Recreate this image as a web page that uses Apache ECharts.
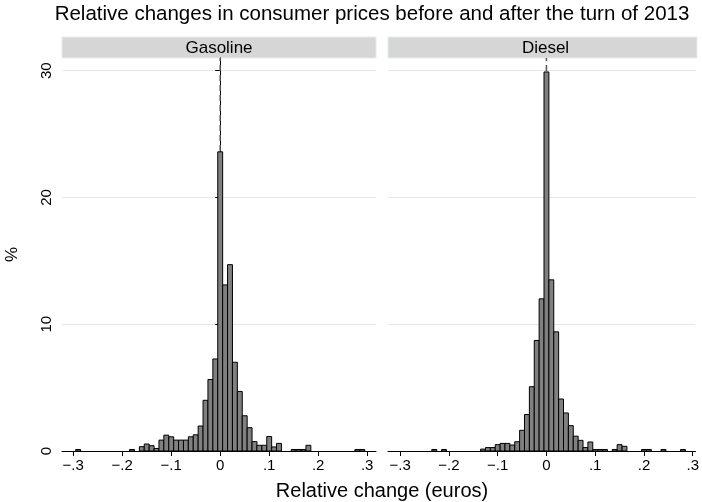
<!DOCTYPE html>
<html>
<head>
<meta charset="utf-8">
<script src="https://cdn.jsdelivr.net/npm/echarts@6/dist/echarts.min.js"></script>
<style>
html,body{margin:0;padding:0;background:#fff;}
#chart{width:702px;height:502px;}
</style>
</head>
<body>
<div id="chart"></div>
<script>
// ---- data ----
const chartTitle = 'Relative changes in consumer prices before and after the turn of 2013';
const panelNames = ['Gasoline', 'Diesel'];
const xTitle = 'Relative change (euros)';
const yTitle = '%';
const binWidth = 0.01;
const xTickValues = [-0.3, -0.2, -0.1, 0, 0.1, 0.2, 0.3];
const xTickLabels = ['\u2212.3', '\u2212.2', '\u2212.1', '0', '.1', '.2', '.3'];
const yTickValues = [0, 10, 20, 30];
const yTickLabels = ['0', '10', '20', '30'];

const gasolineBins = [-0.29, -0.18, -0.16, -0.15, -0.14, -0.13, -0.12, -0.11, -0.10, -0.09, -0.08, -0.07, -0.06, -0.05, -0.04, -0.03, -0.02, -0.01, 0.00, 0.01, 0.02, 0.03, 0.04, 0.05, 0.06, 0.07, 0.08, 0.09, 0.10, 0.11, 0.12, 0.15, 0.16, 0.17, 0.18, 0.28, 0.29];
const gasolinePct  = [0.12, 0.12, 0.34, 0.55, 0.42, 0.20, 0.86, 1.25, 1.12, 0.86, 0.86, 0.86, 1.12, 1.28, 1.97, 4.0, 5.64, 7.26, 23.6, 13.1, 14.7, 7.0, 4.7, 2.78, 1.84, 0.74, 0.45, 0.45, 1.14, 0.32, 0.60, 0.12, 0.12, 0.12, 0.45, 0.12, 0.12];

const dieselBins = [-0.23, -0.21, -0.13, -0.12, -0.11, -0.10, -0.09, -0.08, -0.07, -0.06, -0.05, -0.04, -0.03, -0.02, -0.01, 0.00, 0.01, 0.02, 0.03, 0.04, 0.05, 0.06, 0.07, 0.08, 0.09, 0.10, 0.11, 0.12, 0.14, 0.15, 0.16, 0.20, 0.21, 0.24, 0.28];
const dieselPct  = [0.12, 0.12, 0.15, 0.27, 0.27, 0.50, 0.60, 0.60, 0.47, 0.73, 1.63, 2.88, 5.07, 8.72, 12.0, 29.9, 13.5, 9.4, 4.1, 3.0, 2.0, 1.17, 0.84, 0.27, 0.71, 0.12, 0.12, 0.12, 0.12, 0.50, 0.37, 0.12, 0.12, 0.12, 0.12];

// ---- chart ----
const FONT = 'Liberation Sans, Arial, Helvetica, sans-serif';
const chart = echarts.init(document.getElementById('chart'), null, {renderer: 'canvas'});

const grids = [
  {left: 62, top: 58, width: 314, height: 393},
  {left: 388, top: 58, width: 309, height: 393}
];
const xRanges = [[-0.3229, 0.318], [-0.3249, 0.3057]];
const yMax = 31.0;

function histItem(params, api) {
  const x = api.value(0), y = api.value(1);
  const p0 = api.coord([x - binWidth / 2, y]);
  const p1 = api.coord([x + binWidth / 2, 0]);
  return {
    type: 'rect',
    shape: {x: p0[0], y: p0[1], width: p1[0] - p0[0], height: p1[1] - p0[1]},
    style: {fill: '#808080', stroke: '#000000', lineWidth: 1}
  };
}

const xAxes = [0, 1].map(i => ({
  type: 'value', gridIndex: i, min: xRanges[i][0], max: xRanges[i][1],
  axisLine: {show: true, onZero: false, lineStyle: {color: '#000', width: 1}},
  axisTick: {show: true, length: 5, lineStyle: {color: '#000'}, customValues: xTickValues},
  axisLabel: {show: true, customValues: xTickValues, margin: 7, color: '#000', fontSize: 15, fontFamily: FONT,
    formatter: v => xTickLabels[xTickValues.findIndex(t => Math.abs(t - v) < 1e-6)]},
  splitLine: {show: false}
}));

const yAxes = [0, 1].map(i => ({
  type: 'value', gridIndex: i, min: 0, max: yMax,
  name: i === 0 ? yTitle : '', nameLocation: 'middle', nameGap: 41, nameRotate: 90,
  nameTextStyle: {color: '#000', fontSize: 17, fontFamily: FONT},
  axisLine: {show: i === 0, lineStyle: {color: '#000', width: 1}},
  axisTick: {show: i === 0, length: 5, lineStyle: {color: '#000'}, customValues: yTickValues},
  axisLabel: {show: i === 0, customValues: yTickValues, rotate: 90, margin: 8, color: '#000', fontSize: 15, fontFamily: FONT,
    formatter: v => yTickLabels[yTickValues.indexOf(v)]},
  splitLine: {show: true, lineStyle: {color: '#e6e6e6', width: 1}}
}));

const datasets = [
  gasolineBins.map((b, k) => [b, gasolinePct[k]]),
  dieselBins.map((b, k) => [b, dieselPct[k]])
];

const series = [];
[0, 1].forEach(i => {
  series.push({
    type: 'line', xAxisIndex: i, yAxisIndex: i, data: [[0, 0], [0, yMax]],
    symbol: 'none', silent: true, z: 1, zlevel: 0,
    lineStyle: {color: '#555555', width: 1.5, type: [6, 4]}
  });
});
[0, 1].forEach(i => {
  series.push({
    type: 'custom', xAxisIndex: i, yAxisIndex: i, data: datasets[i],
    renderItem: histItem, z: 10, zlevel: 1, silent: true
  });
});

const gfx = [];
gfx.push({type: 'text', x: 372, y: 14, silent: true,
  style: {text: chartTitle, fill: '#000', font: '20.5px ' + FONT, align: 'center', verticalAlign: 'middle'}});
grids.forEach((g, i) => {
  gfx.push({type: 'rect', silent: true, shape: {x: g.left, y: 37, width: g.width, height: 21},
    style: {fill: '#d6d6d6', stroke: '#e4ebf2', lineWidth: 1}});
  gfx.push({type: 'text', silent: true, x: g.left + g.width / 2 + (i === 1 ? 3 : 0), y: 48,
    style: {text: panelNames[i], fill: '#000', font: '17px ' + FONT, align: 'center', verticalAlign: 'middle'}});
});
gfx.push({type: 'text', x: 382, y: 491, silent: true,
  style: {text: xTitle, fill: '#000', font: '20px ' + FONT, align: 'center', verticalAlign: 'middle'}});

chart.setOption({
  animation: false,
  backgroundColor: '#ffffff',
  grid: grids,
  xAxis: xAxes,
  yAxis: yAxes,
  series: series,
  graphic: gfx
});
</script>
</body>
</html>
